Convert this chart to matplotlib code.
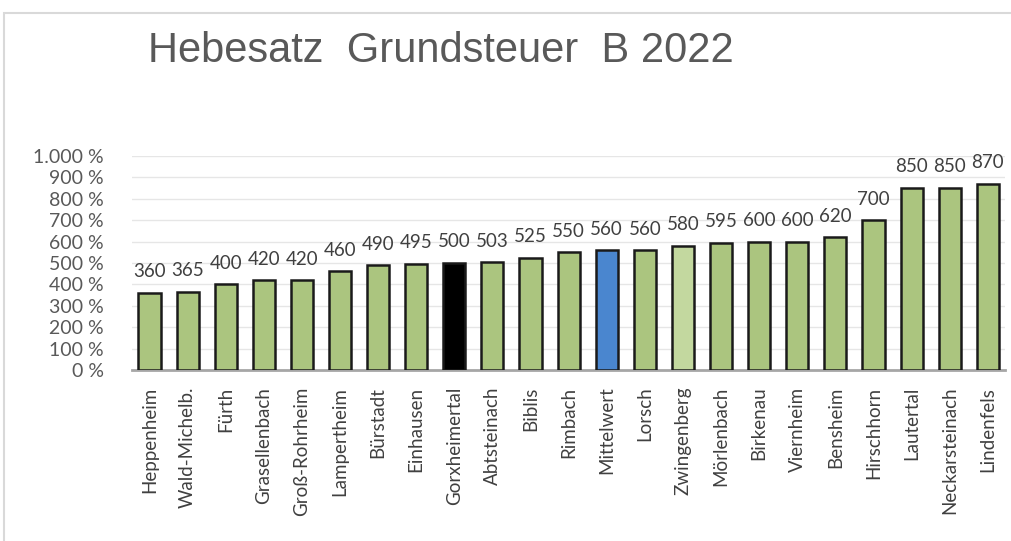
import matplotlib
matplotlib.use("Agg")
import matplotlib.pyplot as plt
from matplotlib.patches import Rectangle
from matplotlib.ticker import FuncFormatter, MultipleLocator
import numpy as np

gemeinden = ["Heppenheim", "Wald-Michelb.", "Fürth", "Grasellenbach", "Groß-Rohrheim",
             "Lampertheim", "Bürstadt", "Einhausen", "Gorxheimertal", "Abtsteinach",
             "Biblis", "Rimbach", "Mittelwert", "Lorsch", "Zwingenberg", "Mörlenbach",
             "Birkenau", "Viernheim", "Bensheim", "Hirschhorn", "Lautertal",
             "Neckarsteinach", "Lindenfels"]
hebesatz = [360, 365, 400, 420, 420, 460, 490, 495, 500, 503, 525, 550, 560, 560,
            580, 595, 600, 600, 620, 700, 850, 850, 870]

green = "#abc57f"
colors = [green] * len(gemeinden)
colors[gemeinden.index("Gorxheimertal")] = "#000000"
colors[gemeinden.index("Mittelwert")] = "#4a86cf"
colors[gemeinden.index("Zwingenberg")] = "#c3d89f"

plt.rcParams['font.family'] = ['Lato', 'DejaVu Sans']

fig = plt.figure(figsize=(10.12, 5.41), dpi=100)
fig.patches.append(Rectangle((4 / 1012, -0.1), 1.2, 1 - 13 / 541 + 0.1,
                             transform=fig.transFigure, fill=False,
                             edgecolor="#d9d9d9", linewidth=1.5))

ax = fig.add_axes([0.130, 0.316, 0.863, 0.396])
x = np.arange(len(gemeinden))
bars = ax.bar(x, hebesatz, width=0.58, color=colors, edgecolor="#1a1a1a",
              linewidth=1.8, zorder=3)
for xi, v in zip(x, hebesatz):
    ax.annotate(str(v), (xi, v), xytext=(0, 9), textcoords="offset points",
                ha="center", va="bottom", fontsize=13.5, color="#404040")

ax.set_ylim(0, 1000)
ax.set_xlim(-0.47, len(gemeinden) - 0.55)
ax.yaxis.set_major_locator(MultipleLocator(100))
ax.yaxis.set_major_formatter(FuncFormatter(
    lambda v, p: f"{int(v):,} %".replace(",", ".")))
ax.grid(axis="y", color="#e6e6e6", linewidth=1, zorder=0)
ax.set_xticks(x)
ax.set_xticklabels(gemeinden, rotation=90, fontsize=13.5, color="#404040")
ax.tick_params(axis="y", length=0, labelsize=14, labelcolor="#595959", pad=20)
ax.tick_params(axis="x", length=0, pad=12)
for s in ["top", "right", "left"]:
    ax.spines[s].set_visible(False)
ax.spines["bottom"].set_color("#a6a6a6")
ax.spines["bottom"].set_linewidth(2)

fig.text(148 / 1012, 1 - 51 / 541, "Hebesatz  Grundsteuer  B 2022",
         fontsize=30, color="#595959", va="center", ha="left",
         family=['Liberation Sans', 'DejaVu Sans'])

fig.savefig("out.png", dpi=100)
